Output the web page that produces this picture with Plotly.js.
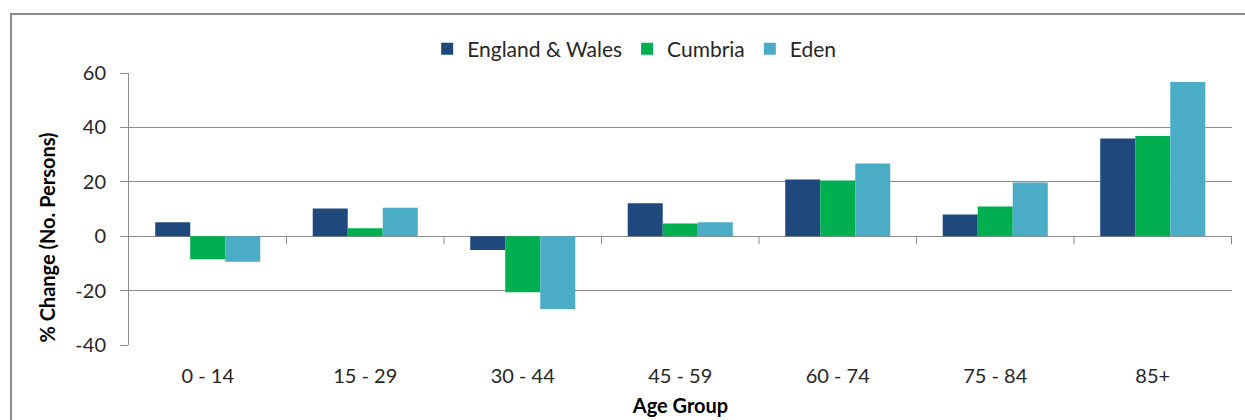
<!DOCTYPE html>
<html>
<head>
<meta charset="utf-8">
<script src="https://cdn.plot.ly/plotly-3.0.1.min.js"></script>
<style>
  html, body { margin: 0; padding: 0; background: #ffffff; }
  #chart { width: 1245px; height: 420px; }
</style>
</head>
<body>
<div id="chart"></div>
<script>
// Population change by age group
const ageGroups = ['0 - 14', '15 - 29', '30 - 44', '45 - 59', '60 - 74', '75 - 84', '85+'];
const englandWales = [5.1, 10.2, -5.1, 12.1, 20.8, 8.0, 35.9];
const cumbria = [-8.5, 2.9, -20.6, 4.7, 20.5, 10.9, 36.8];
const eden = [-9.4, 10.5, -26.8, 5.1, 26.7, 19.7, 56.7];
const yTicks = [-40, -20, 0, 20, 40, 60];

const seriesNames = ['England & Wales', 'Cumbria', 'Eden'];
const seriesColors = ['#1f497d', '#00b050', '#4bacc6'];
const seriesValues = [englandWales, cumbria, eden];

const FONT = 'Lato, "Open Sans", sans-serif';
const GRID = '#8c8c8c';
const TEXT = '#262626';

const traces = seriesValues.map((vals, i) => ({
  type: 'bar',
  name: seriesNames[i],
  x: ageGroups,
  y: vals,
  marker: { color: seriesColors[i], line: { width: 0 } },
  hoverinfo: 'x+y+name'
}));

// Small tick marks on the zero line between age groups
const shapes = [];
for (let i = 0; i <= ageGroups.length - 1; i++) {
  shapes.push({
    type: 'line', xref: 'x', yref: 'y',
    x0: i + 0.5, x1: i + 0.5, y0: 0, y1: -3,
    line: { color: GRID, width: 1 }
  });
}
// Outer chart frame
shapes.push({
  type: 'rect', xref: 'paper', yref: 'paper',
  x0: -0.107, x1: 1.06, y0: -0.4, y1: 1.217,
  line: { color: '#898989', width: 2 }, fillcolor: 'rgba(0,0,0,0)', layer: 'below'
});

// Vertical axis title, centred on the chart frame rather than the plot area
const annotations = [{
  text: '<b>% Change (No. Persons)</b>',
  xref: 'paper', yref: 'paper',
  x: -0.0743, y: 0.395,
  xanchor: 'center', yanchor: 'middle',
  textangle: -90,
  showarrow: false,
  font: { family: FONT, size: 20, color: '#000000' }
}];

const layout = {
  width: 1245,
  height: 420,
  paper_bgcolor: '#ffffff',
  plot_bgcolor: '#ffffff',
  margin: { l: 129, r: 13, t: 73, b: 75, pad: 0 },
  font: { family: FONT, size: 20, color: TEXT },
  barmode: 'group',
  bargap: 0.333,
  bargroupgap: 0,
  showlegend: true,
  legend: {
    orientation: 'h',
    x: 0.458, xanchor: 'center',
    y: 1.088, yanchor: 'middle',
    font: { family: FONT, size: 21, color: TEXT },
    itemwidth: 30,
    tracegroupgap: 0,
    bgcolor: 'rgba(0,0,0,0)'
  },
  xaxis: {
    type: 'category',
    showgrid: false,
    showline: false,
    zeroline: false,
    ticks: '',
    ticklabelstandoff: 17,
    tickfont: { family: FONT, size: 20, color: TEXT },
    title: { text: 'Age Group', font: { family: FONT, size: 20, color: '#000000', weight: 'bold' }, standoff: 12 },
    automargin: false
  },
  yaxis: {
    range: [-40, 60],
    tickvals: yTicks,
    ticktext: yTicks.map(String),
    showgrid: true,
    gridcolor: GRID,
    gridwidth: 1,
    zeroline: true,
    zerolinecolor: GRID,
    zerolinewidth: 1,
    showline: true,
    linecolor: GRID,
    linewidth: 1,
    ticks: 'outside',
    ticklen: 8,
    tickcolor: GRID,
    ticklabelstandoff: 10,
    tickfont: { family: FONT, size: 20, color: TEXT },
    automargin: false,
    fixedrange: true
  },
  shapes: shapes,
  annotations: annotations
};

Plotly.newPlot('chart', traces, layout, { displayModeBar: false, staticPlot: true });
</script>
</body>
</html>
